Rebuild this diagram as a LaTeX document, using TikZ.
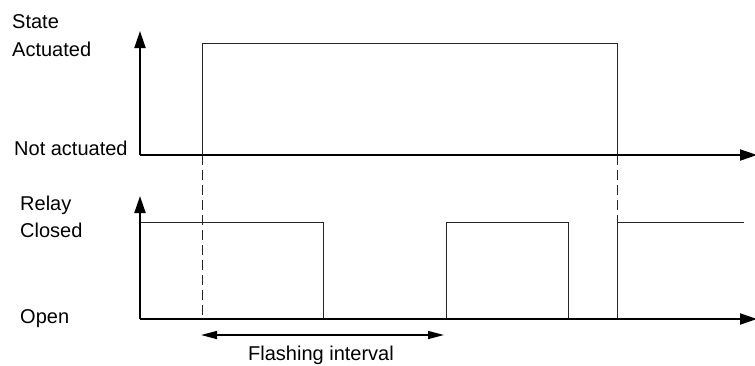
\documentclass[tikz,border=0pt]{standalone}
\usepackage{fontspec}
\setmainfont{Liberation Sans}
\usetikzlibrary{arrows.meta}
\begin{document}
\begin{tikzpicture}[x=1pt,y=-1pt,
  axis/.style={line width=2pt,-{Triangle[length=17pt,width=11pt]}},
  sig/.style={line width=1pt,black!85},
  dashline/.style={line width=1pt,black!85,dash pattern=on 10pt off 5pt},
  interval/.style={line width=1.5pt,{Triangle[length=16pt,width=8pt]}-{Triangle[length=16pt,width=8pt]}},
  lbl/.style={anchor=base west,inner sep=0pt,font=\fontsize{20}{24}\selectfont}]
\useasboundingbox (0,0) rectangle (755,365);
% coordinates
\coordinate (o1) at (140,155);
\coordinate (y1) at (140,31);
\coordinate (x1) at (757,155);
\coordinate (o2) at (140,319);
\coordinate (y2) at (140,196);
\coordinate (x2) at (757,319);
\coordinate (a0) at (202,155);
\coordinate (a1) at (202,43);
\coordinate (a2) at (617,43);
\coordinate (a3) at (617,155);
\coordinate (d1) at (202,319);
\coordinate (d2) at (617,222);
\coordinate (r0) at (140,222);
\coordinate (r1) at (323,222);
\coordinate (r2) at (323,319);
\coordinate (r3) at (446,319);
\coordinate (r4) at (446,222);
\coordinate (r5) at (568,222);
\coordinate (r6) at (568,319);
\coordinate (r7) at (617,319);
\coordinate (r8) at (744,222);
\coordinate (f1) at (201,335);
\coordinate (f2) at (444,335);
% labels
\node[lbl] (state) at (12,28) {State};
\node[lbl] (act) at (12,56) {Actuated};
\node[lbl] (nact) at (14,155) {Not actuated};
\node[lbl] (relay) at (20,210) {Relay};
\node[lbl] (closed) at (20,237) {Closed};
\node[lbl] (open) at (20,323) {Open};
\node[lbl] (flash) at (248,360) {Flashing interval};
% signals
\draw[sig] (a0) -- (a1) -- (a2) -- (a3);
\draw[dashline] (a0) -- (d1);
\draw[dashline] (a3) -- (d2);
\draw[sig] (r0) -- (r1) -- (r2);
\draw[sig] (r3) -- (r4) -- (r5) -- (r6);
\draw[sig] (r7) -- (d2) -- (r8);
% axes
\draw[axis] (o1) -- (y1);
\draw[axis] (o1) -- (x1);
\draw[axis] (o2) -- (y2);
\draw[axis] (o2) -- (x2);
% interval
\draw[interval] (f1) -- (f2);
\end{tikzpicture}
\end{document}
